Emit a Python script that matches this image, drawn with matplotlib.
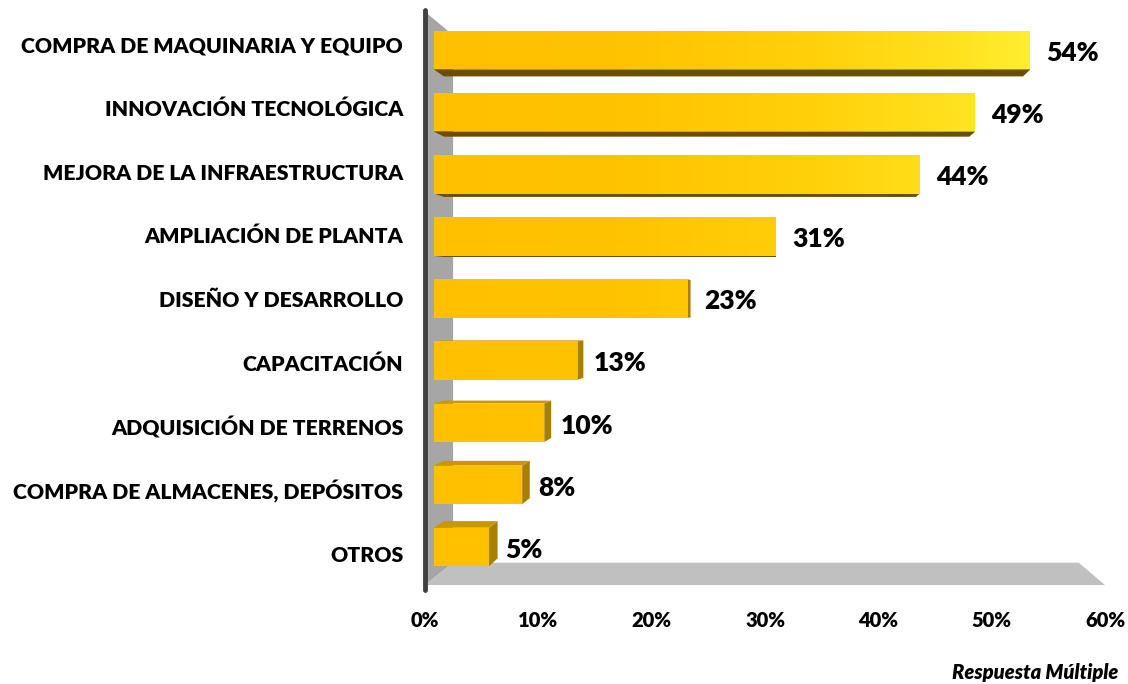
import numpy as np
import matplotlib
matplotlib.use("Agg")
import matplotlib.pyplot as plt
from matplotlib.patches import Polygon
from matplotlib.colors import LinearSegmentedColormap

categories = ["COMPRA DE MAQUINARIA Y EQUIPO", "INNOVACIÓN TECNOLÓGICA",
              "MEJORA DE LA INFRAESTRUCTURA", "AMPLIACIÓN DE PLANTA",
              "DISEÑO Y DESARROLLO", "CAPACITACIÓN", "ADQUISICIÓN DE TERRENOS",
              "COMPRA DE ALMACENES, DEPÓSITOS", "OTROS"]
values = [54, 49, 44, 31, 23, 13, 10, 8, 5]
ticks = [0, 10, 20, 30, 40, 50, 60]
tick_labels = [f"{t}%" for t in ticks]
note = "Respuesta Múltiple"

plt.rcParams['font.family'] = ['Lato', 'DejaVu Sans']
W = "heavy"

# fake 3d: perspective shrink toward a vanishing point (data coords)
vx, vy = 31.0, 4.38
s_front, s_back, s_wall = 0.975, 0.946, 0.92
h = 0.31

def proj(x, y, s):
    x = np.asarray(x, float); y = np.asarray(y, float)
    return np.column_stack([vx + (x - vx) * s, vy + (y - vy) * s])

fig = plt.figure(figsize=(11.28, 6.84), dpi=100)
ax = fig.add_axes([425/1128, 99/684, 680/1128, 573.3/684])
ax.set_xlim(0, 60)
ax.set_ylim(0, 9)
for sp in ax.spines.values():
    sp.set_visible(False)
ax.set_yticks([])

# wall and floor
wall = np.vstack([proj([0, 0], [0, 9], 1), proj([0, 0], [9, 0], s_wall)])
ax.add_patch(Polygon(wall, closed=True, fc="#A6A6A6", ec="none", zorder=1, clip_on=False))
floor = np.vstack([proj([0, 60], [0, 0], 1), proj([60, 0], [0, 0], s_wall)])
ax.add_patch(Polygon(floor, closed=True, fc="#C0C0C0", ec="none", zorder=1, clip_on=False))
ax.plot([0, 0], [-0.08, 9.02], color="#404040", lw=3.5, solid_capstyle="round",
        zorder=2, clip_on=False)

cmap = LinearSegmentedColormap.from_list("gold", [
    (0.0, "#FFC000"), (0.3, "#FFC300"), (0.6, "#FFD00A"),
    (0.82, "#FFE01C"), (1.0, "#FFF236")])
grad = np.linspace(0, 60, 400)[None, :]

n = len(values)
for i, (cat, v) in enumerate(zip(categories, values)):
    c = n - 1 - i + 0.5
    xs = [0, v, v, 0]
    ys = [c - h, c - h, c + h, c + h]
    fr = proj(xs, ys, s_front)
    bk = proj(xs, ys, s_back)
    if v < vx:  # right side
        side = np.array([fr[1], fr[2], bk[2], bk[1]])
        ax.add_patch(Polygon(side, closed=True, fc="#A88000", ec="none", zorder=3, clip_on=False))
    if c + h < vy:  # top face
        top = np.array([fr[3], fr[2], bk[2], bk[3]])
        ax.add_patch(Polygon(top, closed=True, fc="#C99700", ec="none", zorder=3, clip_on=False))
    if c - h > vy:  # bottom face
        bot = np.array([fr[0], fr[1], bk[1], bk[0]])
        ax.add_patch(Polygon(bot, closed=True, fc="#6A4F00", ec="none", zorder=3, clip_on=False))
    face = Polygon(fr, closed=True, fc="none", ec="none", zorder=4, clip_on=False)
    ax.add_patch(face)
    im = ax.imshow(grad, cmap=cmap, vmin=0, vmax=56, extent=(0, 60, 0, 9),
                   aspect="auto", zorder=4, interpolation="bilinear")
    im.set_clip_path(face)

    cx, cy = proj([v], [c], s_front)[0]
    ax.annotate(f"{v}%", xy=(cx, cy), xytext=(11.5, -2), textcoords="offset points",
                ha="left", va="center", fontsize=19, fontweight=W,
                color="black", annotation_clip=False)
    lx = proj([0], [c], s_front)[0][0]
    ax.annotate(cat, xy=(lx, c), xytext=(-22, -1.5), textcoords="offset points",
                ha="right", va="center", fontsize=15.35, fontweight=W,
                color="black", annotation_clip=False)

ax.set_xlim(0, 60)
ax.set_ylim(0, 9)
ax.set_xticks(ticks)
ax.set_xticklabels(tick_labels, fontsize=14.5, fontweight=W)
ax.tick_params(axis="x", length=0, pad=19)

fig.text(1118/1128, 1 - 673/684, note, ha="right", va="center",
         fontsize=14.5, fontweight=W, fontstyle="italic")

fig.savefig("out.png", dpi=100)
